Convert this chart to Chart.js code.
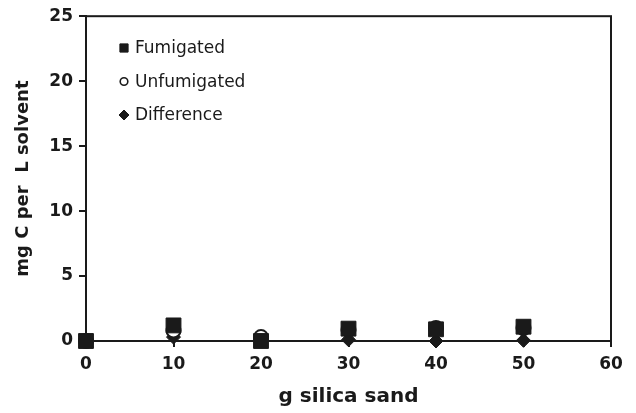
<!DOCTYPE html>
<html lang="en">
<head>
    <meta charset="UTF-8">
    <title>Silica sand chart</title>
    <style>
        body { margin: 0; padding: 0; background: #ffffff; }
        #wrap { width: 636px; height: 413px; }
    </style>
    <script src="https://cdn.jsdelivr.net/npm/chart.js"></script>
</head>
<body>
<div id="wrap"><canvas id="myChart" width="636" height="413"></canvas></div>
<script>
    // Values
    const sandGrams = [0, 10, 20, 30, 40, 50];
    const fumigated = [0.0, 1.2, 0.0, 0.95, 0.9, 1.1];
    const unfumigated = [0.0, 0.8, 0.3, 0.85, 1.0, 1.0];
    const difference = [0.0, 0.3, 0.0, 0.1, 0.0, 0.05];
    const xTicks = [0, 10, 20, 30, 40, 50, 60];
    const yTicks = [0, 5, 10, 15, 20, 25];

    const toPoints = ys => sandGrams.map((x, i) => ({ x: x, y: ys[i] }));
    const ink = '#1a1a1a';

    // box round the plot area + legend inside it
    const boxAndLegend = {
        id: 'boxAndLegend',
        afterDraw(chart) {
            const { ctx, chartArea: a } = chart;
            ctx.save();
            ctx.strokeStyle = ink;
            ctx.lineWidth = 2;
            ctx.strokeRect(a.left, a.top, a.right - a.left, a.bottom - a.top);

            ctx.font = '17px "DejaVu Sans"';
            ctx.textBaseline = 'middle';
            chart.data.datasets.forEach((ds, i) => {
                const y = 48 + i * 33.5;
                const x = 124;
                ctx.fillStyle = ds.backgroundColor;
                ctx.strokeStyle = ds.borderColor;
                ctx.lineWidth = ds.legendBorder;
                Chart.helpers.drawPoint(ctx, {
                    pointStyle: ds.pointStyle,
                    radius: ds.legendRadius,
                    borderWidth: ds.legendBorder
                }, x, y);
                ctx.fillStyle = ink;
                ctx.fillText(ds.label, x + 11, y + 1);
            });
            ctx.restore();
        }
    };

    const ctx = document.getElementById('myChart').getContext('2d');
    const chart = new Chart(ctx, {
        type: 'scatter',
        data: {
            datasets: [{
                label: 'Fumigated',
                data: toPoints(fumigated),
                pointStyle: 'rect',
                pointRadius: 10.5,
                legendRadius: 5.8,
                legendBorder: 1,
                backgroundColor: ink,
                borderColor: ink,
                borderWidth: 1,
                order: 0,
                clip: false
            }, {
                label: 'Unfumigated',
                data: toPoints(unfumigated),
                pointStyle: 'circle',
                pointRadius: 7,
                legendRadius: 3.8,
                legendBorder: 1.6,
                backgroundColor: '#ffffff',
                borderColor: ink,
                borderWidth: 2,
                order: 1,
                clip: false
            }, {
                label: 'Difference',
                data: toPoints(difference),
                pointStyle: 'rectRot',
                pointRadius: 7,
                legendRadius: 5,
                legendBorder: 1,
                backgroundColor: ink,
                borderColor: ink,
                borderWidth: 1,
                order: 2,
                clip: false
            }]
        },
        plugins: [boxAndLegend],
        options: {
            responsive: false,
            animation: false,
            layout: { padding: { top: 16, right: 25, left: 0, bottom: 0 } },
            plugins: {
                legend: { display: false },
                tooltip: { enabled: false }
            },
            scales: {
                x: {
                    type: 'linear',
                    min: 0,
                    max: 60,
                    afterBuildTicks: s => { s.ticks = xTicks.map(v => ({ value: v })); },
                    afterFit: s => { s.height = 72; },
                    grid: { display: true, drawOnChartArea: false, tickLength: 6, color: ink, lineWidth: 2 },
                    border: { color: ink, width: 2 },
                    ticks: { color: ink, font: { family: 'DejaVu Sans', size: 17, weight: 'bold' }, padding: 7 },
                    title: {
                        display: true,
                        text: 'g silica sand',
                        color: ink,
                        font: { family: 'DejaVu Sans', size: 20, weight: 'bold' },
                        padding: { top: 4, bottom: 4 }
                    }
                },
                y: {
                    min: 0,
                    max: 25,
                    afterBuildTicks: s => { s.ticks = yTicks.map(v => ({ value: v })); },
                    afterFit: s => { s.width = 86; },
                    grid: { display: true, drawOnChartArea: false, tickLength: 7, color: ink, lineWidth: 2 },
                    border: { color: ink, width: 2 },
                    ticks: { color: ink, font: { family: 'DejaVu Sans', size: 17, weight: 'bold' }, padding: 6 },
                    title: {
                        display: true,
                        text: 'mg C per  L solvent',
                        color: ink,
                        font: { family: 'DejaVu Sans', size: 18, weight: 'bold' },
                        padding: { top: 13, bottom: 4 }
                    }
                }
            }
        }
    });
</script>
</body>
</html>
